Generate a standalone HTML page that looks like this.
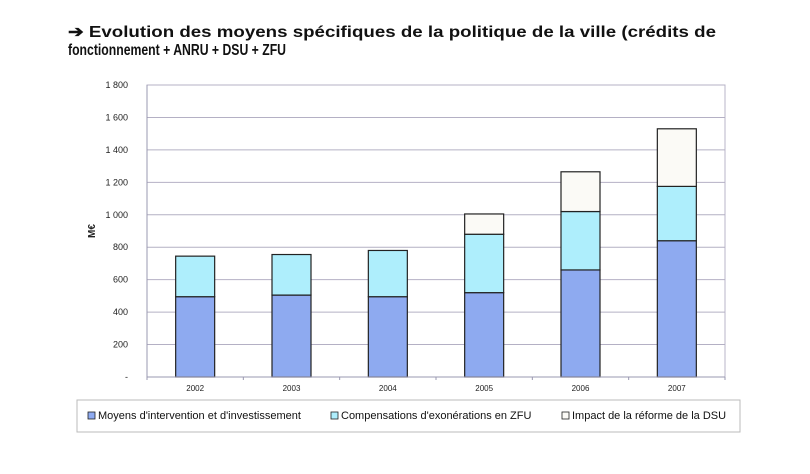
<!DOCTYPE html>
<html><head><meta charset="utf-8"><style>
html,body{margin:0;padding:0;background:#fff;}
svg{display:block;font-family:"Liberation Sans",Arial,sans-serif;}
</style></head><body>
<svg id="chart" width="810" height="474" viewBox="0 0 810 474">
  <text x="68" y="37" font-size="16" font-weight="bold" fill="#111" textLength="648" lengthAdjust="spacingAndGlyphs">➔ Evolution des moyens spécifiques de la politique de la ville (crédits de</text>
  <text x="68" y="55" font-size="16" font-weight="bold" fill="#111" textLength="218" lengthAdjust="spacingAndGlyphs">fonctionnement + ANRU + DSU + ZFU</text>
  <g id="grid"></g>
  <g id="bars"></g>
  <g id="axes"></g>
  <text transform="translate(95,231) rotate(-90)" font-size="10" font-weight="bold" text-anchor="middle" fill="#222">M€</text>
  <g>
    <rect x="77" y="400" width="663" height="32" fill="#fff" stroke="#bbb" stroke-width="1"/>
    <rect x="88" y="412" width="7" height="7" fill="#8eaaf0" stroke="#222" stroke-width="0.8"/>
    <text x="98" y="419" font-size="11" fill="#111">Moyens d'intervention et d'investissement</text>
    <rect x="331" y="412" width="7" height="7" fill="#aeeefc" stroke="#222" stroke-width="0.8"/>
    <text x="341" y="419" font-size="11" fill="#111">Compensations d'exonérations en ZFU</text>
    <rect x="562" y="412" width="7" height="7" fill="#fbfaf6" stroke="#222" stroke-width="0.8"/>
    <text x="572" y="419" font-size="11" fill="#111">Impact de la réforme de la DSU</text>
  </g>
</svg>
<script>
const categories = ["2002","2003","2004","2005","2006","2007"];
const moyens = [495, 505, 495, 520, 660, 840];
const zfu = [250, 250, 285, 360, 360, 335];
const dsu = [0, 0, 0, 125, 245, 355];
const yTicks = [0,200,400,600,800,1000,1200,1400,1600,1800];
const yTickLabels = ["-","200","400","600","800","1 000","1 200","1 400","1 600","1 800"];

const NS = "http://www.w3.org/2000/svg";
const X0 = 147, X1 = 725, Y0 = 377, Y1 = 85, YMAX = 1800;
const y = v => Y0 - (v / YMAX) * (Y0 - Y1);
const band = (X1 - X0) / categories.length;
const xc = i => X0 + band * (i + 0.5);
const BW = 39;
function mk(tag, attrs, parent) {
  const e = document.createElementNS(NS, tag);
  for (const k in attrs) e.setAttribute(k, attrs[k]);
  parent.appendChild(e);
  return e;
}
const grid = document.getElementById("grid");
const axes = document.getElementById("axes");
const bars = document.getElementById("bars");
mk("rect", {x: X0, y: Y1, width: X1 - X0, height: Y0 - Y1, fill: "#fff", stroke: "#b8b4c8", "stroke-width": 1}, grid);
yTicks.forEach((t, i) => {
  if (t > 0) {
    const l = mk("line", {x1: X0, x2: X1, y1: y(t), y2: y(t), stroke: "#b4b0c4", "stroke-width": 1}, grid);
    
    
  }
  const tx = mk("text", {x: 128, y: y(t) + 3, "font-size": 9, "text-anchor": "end", fill: "#222"}, axes);
  tx.textContent = yTickLabels[i];
  
  
});
mk("line", {x1: X0, x2: X0, y1: Y1, y2: Y0 + 3, stroke: "#9a98b0", "stroke-width": 1}, axes);
mk("line", {x1: X0, x2: X1, y1: Y0, y2: Y0, stroke: "#9a98b0", "stroke-width": 1}, axes);
categories.forEach((c, i) => {
  mk("line", {x1: X0 + band * (i + 1), x2: X0 + band * (i + 1), y1: Y0, y2: Y0 + 3, stroke: "#9a98b0"}, axes);
  const tx = mk("text", {x: xc(i), y: 391, "font-size": 8, "text-anchor": "middle", fill: "#222"}, axes);
  tx.textContent = c;
  
  
  const series = [[moyens, "#8eaaf0", "moyens"], [zfu, "#aeeefc", "zfu"], [dsu, "#fbfaf6", "dsu"]];
  let base = 0;
  series.forEach(([arr, col, nm]) => {
    const v = arr[i];
    if (v > 0) {
      const r = mk("rect", {x: xc(i) - BW / 2, y: y(base + v), width: BW, height: y(base) - y(base + v), fill: col, stroke: "#222", "stroke-width": 1.2}, bars);
      
      
    }
    base += v;
  });
});
</script>
</body></html>
